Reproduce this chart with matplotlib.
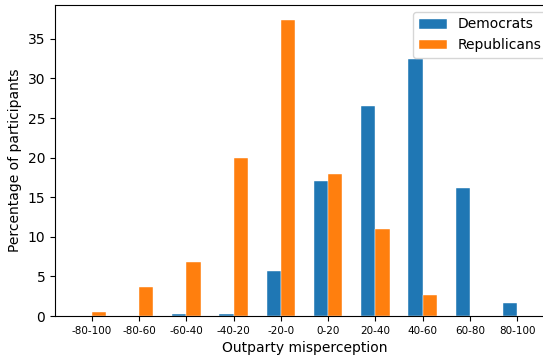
import matplotlib
matplotlib.use("Agg")
import matplotlib.pyplot as plt
import numpy as np

categories = ["-80-100", "-80-60", "-60-40", "-40-20", "-20-0", "0-20", "20-40", "40-60", "60-80", "80-100"]
democrats = [0.0, 0.0, 0.2, 0.2, 5.7, 17.1, 26.5, 32.4, 16.2, 1.65]
republicans = [0.5, 3.65, 6.8, 20.0, 37.4, 17.9, 11.0, 2.6, 0.0, 0.0]

fig = plt.figure(figsize=(5.43, 3.57), dpi=100)
ax = fig.add_axes([55/543, 41/357, 499/543, 311/357])

x = np.arange(len(categories))
w = 0.3
ax.bar(x - w/2, democrats, w, color="#1f77b4", edgecolor="white", linewidth=0.3, label="Democrats")
ax.bar(x + w/2, republicans, w, color="#ff7f0e", edgecolor="white", linewidth=0.3, label="Republicans")

ax.set_xticks(x)
ax.set_xticklabels(categories, fontsize=7.5)
ax.tick_params(axis="y", labelsize=10)
ax.set_xlabel("Outparty misperception", fontsize=10)
ax.set_ylabel("Percentage of participants", fontsize=10)
ax.legend(loc="upper right", fontsize=10)

fig.savefig("out.png", dpi=100)
